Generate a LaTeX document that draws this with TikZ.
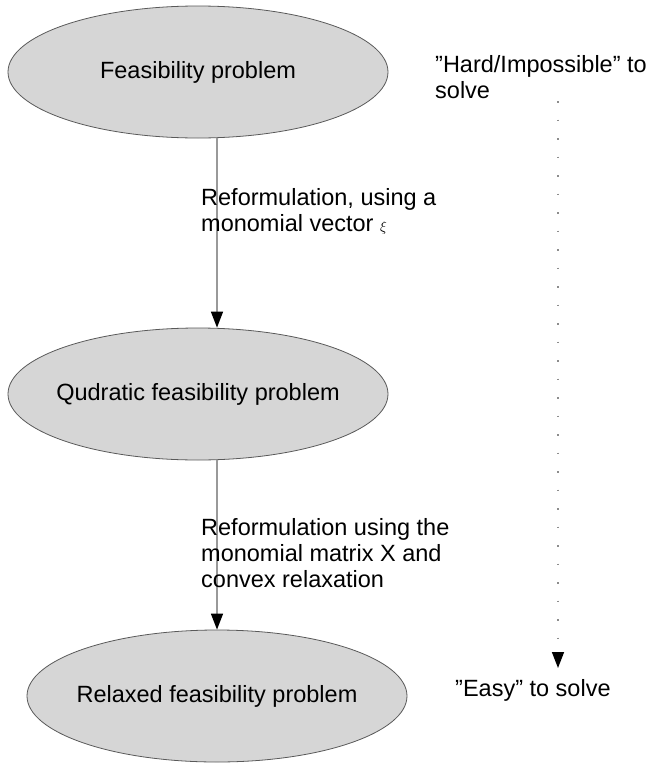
\documentclass[tikz,border=0pt]{standalone}
\usepackage{fontspec}
\setmainfont{Liberation Sans}
\usetikzlibrary{shapes.geometric, arrows.meta}

\begin{document}
\begin{tikzpicture}[x=1pt, y=-1pt,
    font=\fontsize{23.5}{26}\selectfont,
    blob/.style={ellipse, draw=black!65, fill=black!16, line width=0.8pt,
                 minimum width=380pt, minimum height=132pt,
                 inner xsep=-20pt, inner ysep=0pt},
    note/.style={anchor=north west, align=left, inner sep=0pt},
    flow/.style={draw=black!40, line width=1.5pt,
                 -{Triangle[length=16pt, width=12pt, color=black]}},
    hint/.style={draw=black!45, line width=1.5pt, dash pattern=on 1.5pt off 17pt,
                 -{Triangle[length=16pt, width=12pt, color=black]}}]
  \useasboundingbox (0,0) rectangle (651,763);
  \node[blob] (feas) at (198,72) {Feasibility problem};
  \node[blob] (quad) at (198,394) {Qudratic feasibility problem};
  \node[blob] (relax) at (217,696) {Relaxed feasibility problem};
  \draw[flow] (feas.south -| relax.north) -- (quad.north -| relax.north);
  \draw[flow] (quad.south -| relax.north) -- (relax.north);
  \node[note] (step1) at (201,188)
    {Reformulation, using a\\monomial vector {\fontsize{14}{14}\selectfont$\xi$}};
  \node[note] (step2) at (201,518)
    {Reformulation using the\\monomial matrix X and\\convex relaxation};
  \node[note] (hard) at (435,55) {”Hard/Impossible” to\\solve};
  \node[note] (easy) at (455,679) {”Easy” to solve};
  \coordinate (hardend) at (558,101);
  \coordinate (easyend) at (558,668);
  \draw[hint] (hardend) -- (easyend);
\end{tikzpicture}
\end{document}
